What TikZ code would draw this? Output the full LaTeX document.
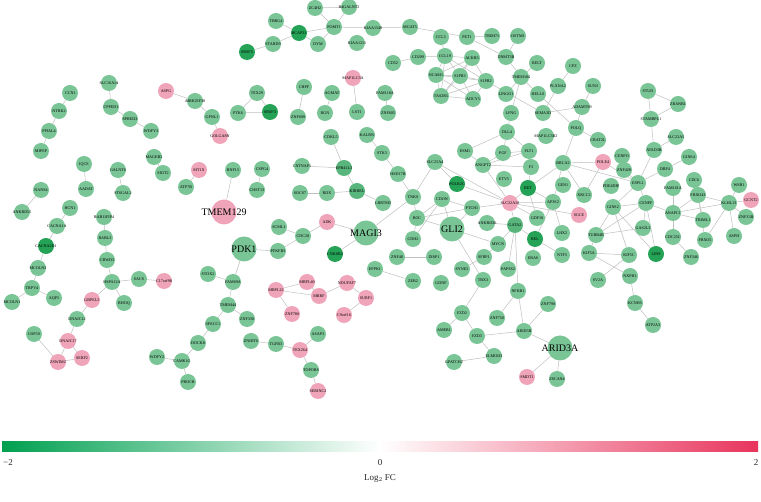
\documentclass[tikz,border=0pt]{standalone}
\usepackage{fontspec}
\setmainfont{Liberation Serif}
\usetikzlibrary{shapes.geometric}
\definecolor{lgc}{RGB}{122,197,150}
\definecolor{mgc}{RGB}{88,182,124}
\definecolor{dgc}{RGB}{36,162,86}
\definecolor{pkc}{RGB}{240,164,186}
\definecolor{edgc}{RGB}{192,192,192}
\definecolor{cbg}{RGB}{0,160,80}
\definecolor{cbr}{RGB}{232,52,92}
\pgfdeclarelayer{edges}
\pgfsetlayers{edges,main}
\newcommand{\nd}[4]{\node[#1] (#2) at (#3) {\makebox[0pt]{#4}};}
\tikzset{
  base/.style={circle,inner sep=0pt,minimum size=16pt,font=\fontsize{4.1}{4.5}\selectfont,text=black},
  lg/.style={base,fill=lgc},
  mg/.style={base,fill=mgc},
  dg/.style={base,fill=dgc},
  pk/.style={base,fill=pkc},
  bigg/.style={base,fill=lgc,minimum size=25pt,font=\fontsize{10}{11}\selectfont},
  bigp/.style={base,fill=pkc,minimum size=25pt,font=\fontsize{10}{11}\selectfont},
  edge/.style={draw=edgc,line width=0.5pt},
  cblab/.style={font=\fontsize{9}{10}\selectfont,text=black!85}
}
\begin{document}
\begin{tikzpicture}[x=1pt,y=-1pt]
\useasboundingbox (0,0) rectangle (761,502);
% ---- top cluster
\nd{lg}{zc4h2}{315,8}{ZC4H2}
\nd{lg}{b4galnt2}{349,7}{B4GALNT2}
\nd{lg}{tbrg4}{276,21}{TBRG4}
\nd{dg}{bcap}{299,33}{BCAP31}
\nd{lg}{pomt1}{334,27}{POMT1}
\nd{lg}{kiaa1549}{373,28}{KIAA1549}
\nd{lg}{kiaa1211}{357,43}{KIAA1211}
\nd{lg}{dym}{318,44}{DYM}
\nd{lg}{stard9}{273,44}{STARD9}
\nd{dg}{srsf5}{247,52}{SRSF5}
\nd{lg}{mgat5}{410,27}{MGAT5}
\nd{lg}{ccl5}{441,37}{CCL5}
\nd{lg}{pet1}{467,37}{PET1}
\nd{lg}{trim71}{492,36}{TRIM71}
\nd{lg}{ostm1}{518,36}{OSTM1}
\nd{lg}{dnmt3b}{506,57}{DNMT3B}
\nd{lg}{cd209}{418,57}{CD209}
\nd{lg}{cd52}{393,63}{CD52}
\nd{lg}{ccl19}{445,56}{CCL19}
\nd{lg}{ackr3}{472,58}{ACKR3}
\nd{lg}{ncam1}{436,75}{NCAM1}
\nd{lg}{s1pr3}{460,76}{S1PR3}
\nd{lg}{s1pr2}{486,81}{S1PR2}
\nd{lg}{tas2r5}{441,96}{TAS2R5}
\nd{lg}{adcy5}{473,99}{ADCY5}
\nd{lg}{tmem104}{521,77}{TMEM104}
\nd{lg}{relt}{537,63}{RELT}
\nd{lg}{lingo1}{506,94}{LINGO1}
\nd{lg}{hells}{538,94}{HELLS}
\nd{lg}{plxna2}{558,86}{PLXNA2}
\nd{lg}{sema3d}{543,113}{SEMA3D}
\nd{lg}{lfng}{511,113}{LFNG}
\nd{lg}{dll4}{507,132}{DLL4}
\nd{lg}{map1lc3b2}{546,136}{MAP1LC3B2}
\nd{lg}{cpz}{573,66}{CPZ}
\nd{lg}{sun3}{593,86}{SUN3}
\nd{lg}{adamts9}{582,107}{ADAMTS9}
\nd{lg}{polq}{576,128}{POLQ}
\nd{lg}{crat2}{598,140}{CRAT2L}
\nd{lg}{gtud}{648,91}{STUD}
\nd{lg}{zranb1}{678,104}{ZRANB1}
\nd{lg}{stambpl1}{651,119}{STAMBPL1}
\nd{lg}{slc22a5}{676,137}{SLC22A5}
% ---- right cluster
\nd{lg}{atad3b}{654,150}{ATAD3B}
\nd{lg}{cenpo}{622,156}{CENPO}
\nd{lg}{znf428}{624,170}{ZNF428}
\nd{pk}{pole4}{603,162}{POLE4}
\nd{lg}{gins4}{689,157}{GINS4}
\nd{lg}{dbf4}{665,169}{DBF4}
\nd{lg}{espl1}{638,183}{ESPL1}
\nd{lg}{pde4dip}{611,186}{PDE4DIP}
\nd{lg}{xrcc2}{584,195}{XRCC2}
\nd{lg}{fam161a}{673,188}{FAM161A}
\nd{lg}{cdc6}{694,180}{CDC6}
\nd{lg}{fbxo43}{698,195}{FBXO43}
\nd{lg}{cenpf}{646,203}{CENPF}
\nd{lg}{gins2}{613,207}{GINS2}
\nd{lg}{anapc1}{673,213}{ANAPC1}
\nd{lg}{triml1}{703,220}{TRIML1}
\nd{lg}{klhl13}{729,203}{KLHL13}
\nd{pk}{gcnt2}{751,200}{GCNT2}
\nd{lg}{wsb1}{739,185}{WSB1}
\nd{lg}{znf33}{746,217}{ZNF33B}
\nd{lg}{tubb4b}{596,235}{TUBB4B}
\nd{lg}{gas2l3}{643,228}{GAS2L3}
\nd{lg}{cdc25c}{673,237}{CDC25C}
\nd{lg}{fbxo5}{705,240}{FBXO5}
\nd{lg}{asph}{734,236}{ASPH}
\nd{dg}{lin9}{656,254}{LIN9}
\nd{lg}{kif5a}{589,253}{KIF5A}
\nd{lg}{kif5c}{629,255}{KIF5C}
\nd{lg}{znf346}{691,257}{ZNF346}
\nd{lg}{nxph1}{630,276}{NXPH1}
\nd{lg}{sv2a}{598,280}{SV2A}
\nd{lg}{kcnh5}{635,303}{KCNH5}
\nd{lg}{atp2a3}{653,325}{ATP2A3}
\nd{pk}{sgce}{579,215}{SGCE}
% ---- middle cluster
\nd{lg}{esm1}{465,151}{ESM1}
\nd{lg}{pgf}{503,153}{PGF}
\nd{lg}{flt1}{529,151}{FLT1}
\nd{lg}{angpt2}{483,165}{ANGPT2}
\nd{lg}{f3}{531,167}{F3}
\nd{lg}{etv5}{504,179}{ETV5}
\nd{dg}{ret}{528,188}{RET}
\nd{lg}{brca2}{563,163}{BRCA2}
\nd{lg}{gen1}{563,185}{GEN1}
\nd{lg}{slc25a4}{435,162}{SLC25A4}
\nd{lg}{hhd2d}{398,174}{HSD17B}
\nd{lg}{stk3}{382,153}{STK3}
\nd{dg}{polr2c}{457,184}{POLR2C}
\nd{lg}{tnks}{413,197}{TNKS}
\nd{lg}{lrrtm3}{383,203}{LRRTM3}
\nd{lg}{cdon}{442,199}{CDON}
\nd{lg}{ptch1}{472,208}{PTCH1}
\nd{pk}{slc22a18}{510,203}{SLC22A18}
\nd{lg}{ap3s2}{553,202}{AP3S2}
\nd{lg}{gdf10}{537,218}{GDF10}
\nd{lg}{boc}{417,218}{BOC}
\nd{bigg}{gli2}{452,229}{GLI2}
\nd{lg}{ankrd36}{487,223}{ANKRD36}
\nd{mg}{gata2}{515,225}{GATA2}
\nd{lg}{lhx2}{562,233}{LHX2}
\nd{dg}{rel}{535,239}{REL}
\nd{lg}{mycn}{498,244}{MYCN}
\nd{lg}{cdh2}{413,239}{CDH2}
\nd{lg}{znf48}{397,257}{ZNF48}
\nd{lg}{disp1}{434,257}{DISP1}
\nd{lg}{sfrp1}{484,257}{SFRP1}
\nd{lg}{eras}{533,258}{ERAS}
\nd{lg}{ntf3}{562,255}{NTF3}
\nd{lg}{syne2}{462,269}{SYNE2}
\nd{lg}{papss2}{508,269}{PAPSS2}
\nd{lg}{zeb2}{413,281}{ZEB2}
\nd{lg}{gdnf}{441,283}{GDNF}
\nd{lg}{tbx3}{483,280}{TBX3}
\nd{lg}{nfkb1}{518,291}{NFKB1}
\nd{lg}{fzd2}{462,313}{FZD2}
\nd{lg}{znf750}{497,318}{ZNF750}
\nd{lg}{znf790}{548,304}{ZNF790}
\nd{lg}{amer1}{444,330}{AMER1}
\nd{lg}{fzd3}{477,336}{FZD3}
\nd{lg}{arid5b}{524,331}{ARID5B}
\nd{bigg}{arid3a}{560,348}{ARID3A}
\nd{lg}{elmod3}{494,356}{ELMOD3}
\nd{lg}{gpatch2}{454,362}{GPATCH2}
\nd{pk}{smdt1}{527,377}{SMDT1}
\nd{lg}{zscan4}{557,379}{ZSCAN4}
% ---- left-middle
\nd{lg}{cdkl5}{331,137}{CDKL5}
\nd{lg}{kalrn}{367,135}{KALRN}
\nd{lg}{cntnap1}{302,166}{CNTNAP1}
\nd{mg}{epb41l3}{344,168}{EPB41L3}
\nd{lg}{socs7}{300,193}{SOCS7}
\nd{lg}{rdx}{327,193}{RDX}
\nd{mg}{krrn}{357,191}{KIRREL}
\nd{pk}{mt1x}{199,170}{MT1X}
\nd{lg}{atp7b}{186,187}{ATP7B}
\nd{lg}{rnf13}{233,170}{RNF13}
\nd{bigp}{tmem129}{224,212}{TMEM129}
\nd{lg}{cspg4}{262,169}{CSPG4}
\nd{lg}{chst13}{257,190}{CHST13}
\nd{lg}{scml1}{279,227}{SCML1}
\nd{lg}{cdc20}{303,236}{CDC20}
\nd{pk}{adk}{327,222}{ADK}
\nd{bigg}{magi3}{366,233}{MAGI3}
\nd{bigg}{pdk1}{244,249}{PDK1}
\nd{lg}{pfkfb3}{278,251}{PFKFB3}
\nd{dg}{cnksr2}{335,254}{CNKSR2}
\nd{lg}{eppk1}{375,269}{EPPK1}
\nd{lg}{stox2}{208,274}{STOX2}
\nd{lg}{fam69a}{233,282}{FAM69A}
\nd{lg}{tmem44}{228,305}{TMEM44}
\nd{lg}{znf330}{247,319}{ZNF330}
\nd{lg}{specc1}{213,324}{SPECC1}
\nd{lg}{dock8}{198,343}{DOCK8}
\nd{pk}{mrpl22}{276,290}{MRPL22}
\nd{pk}{mrpl40}{307,282}{MRPL40}
\nd{pk}{mrrf}{319,296}{MRRF}
\nd{pk}{znf780}{292,314}{ZNF780}
\nd{pk}{ndufaf7}{347,283}{NDUFAF7}
\nd{pk}{surf1}{366,298}{SURF1}
\nd{pk}{c9orf16}{344,315}{C9orf16}
\nd{lg}{znhit6}{251,341}{ZNHIT6}
\nd{lg}{tgfb3}{276,344}{TGFB3}
\nd{pk}{tex264}{300,350}{TEX264}
\nd{lg}{asap3}{318,334}{ASAP3}
\nd{lg}{topors}{311,370}{TOPORS}
\nd{pk}{serinc2}{318,391}{SERINC2}
% ---- top-left
\nd{pk}{aspg}{166,91}{ASPG}
\nd{lg}{arhgef38}{195,101}{ARHGEF38}
\nd{lg}{gpnl1}{212,117}{GPNL1}
\nd{pk}{golga8}{220,136}{GOLGA8N}
\nd{lg}{tex29}{257,93}{TEX29}
\nd{lg}{ptk6}{238,113}{PTK6}
\nd{dg}{srsf3}{270,112}{SRSF3}
\nd{lg}{chpf}{304,87}{CHPF}
\nd{lg}{znf609}{298,117}{ZNF609}
\nd{lg}{agmat}{332,93}{AGMAT}
\nd{lg}{rgn}{325,113}{RGN}
\nd{pk}{map1lc3a}{353,78}{MAP1LC3A}
\nd{lg}{lst1}{357,112}{LST1}
\nd{lg}{fam118a}{385,93}{FAM118A}
\nd{lg}{znf60}{388,113}{ZNF605}
% ---- left
\nd{lg}{ccni}{70,93}{CCNI}
\nd{lg}{ntrk2}{59,111}{NTRK2}
\nd{lg}{ppial4}{49,131}{PPIAL4}
\nd{lg}{mipep}{41,151}{MIPEP}
\nd{lg}{slc16a14}{109,83}{SLC16A14}
\nd{lg}{cpped1}{111,107}{CPPED1}
\nd{lg}{spred3}{130,119}{SPRED3}
\nd{lg}{wdfy3}{151,131}{WDFY3}
\nd{lg}{iqce}{84,164}{IQCE}
\nd{lg}{aadat}{86,189}{AADAT}
\nd{lg}{galnt6}{118,170}{GALNT6}
\nd{lg}{st6gal2}{123,193}{ST6GAL2}
\nd{lg}{mageb2}{154,157}{MAGEB2}
\nd{lg}{sidt2}{163,173}{SIDT2}
\nd{lg}{nans4}{41,190}{NANS4}
\nd{lg}{ankrd55}{22,212}{ANKRD55}
\nd{lg}{hcn1}{70,208}{HCN1}
\nd{lg}{cacna1a}{57,226}{CACNA1A}
\nd{dg}{cacna2d1}{46,246}{CACNA2D1}
\nd{lg}{mcoln3}{38,268}{MCOLN3}
\nd{lg}{trpv4}{32,288}{TRPV4}
\nd{lg}{mcoln1}{12,302}{MCOLN1}
\nd{lg}{aqp5}{54,298}{AQP5}
\nd{lg}{rab11fip4}{104,217}{RAB11FIP4}
\nd{lg}{rabl3}{105,238}{RABL3}
\nd{lg}{cbwd3}{107,260}{CBWD3}
\nd{lg}{hspa12a}{112,282}{HSPA12A}
\nd{lg}{sacs}{139,279}{SACS}
\nd{pk}{c17orf98}{164,281}{C17orf98}
\nd{pk}{grpel2}{92,300}{GRPEL2}
\nd{lg}{rhoq}{124,303}{RHOQ}
\nd{lg}{dnajc12}{77,319}{DNAJC12}
\nd{pk}{dnajc17}{68,341}{DNAJC17}
\nd{pk}{zswim2}{58,362}{ZSWIM2}
\nd{pk}{serp2}{82,358}{SERP2}
\nd{lg}{usp50}{34,334}{USP50}
\nd{lg}{wdfy2}{157,357}{WDFY2}
\nd{lg}{camk1g}{182,361}{CAMK1G}
\nd{lg}{procr}{188,382}{PROCR}
% ---- edges
\begin{pgfonlayer}{edges}
\fill[white] (0,0) rectangle (761,502);
\foreach \a/\b in {zc4h2/b4galnt2,zc4h2/pomt1,b4galnt2/pomt1,tbrg4/bcap,bcap/pomt1,bcap/dym,pomt1/dym,bcap/stard9,stard9/srsf5,pomt1/kiaa1549,kiaa1549/mgat5,mgat5/pet1,ccl5/ccl19,pet1/trim71,pet1/dnmt3b,ostm1/dnmt3b,cd52/cd209,cd209/ccl19,ccl19/ackr3,ccl19/ncam1,ccl19/s1pr3,ccl19/tas2r5,ccl19/s1pr2,ackr3/s1pr3,ackr3/s1pr2,ackr3/ncam1,ncam1/s1pr3,ncam1/s1pr2,ncam1/tas2r5,ncam1/adcy5,s1pr3/s1pr2,s1pr3/tas2r5,s1pr3/adcy5,s1pr2/tas2r5,s1pr2/adcy5,tas2r5/adcy5,ackr3/tas2r5,s1pr2/sema3d,dnmt3b/tmem104,tmem104/relt,tmem104/lingo1,tmem104/hells,tmem104/lfng,lfng/dll4,plxna2/sema3d,cpz/plxna2,sema3d/adamts9,sun3/adamts9,adamts9/polq,hells/polq,polq/crat2,polq/brca2,dll4/esm1,dll4/pgf,dll4/flt1,esm1/angpt2,pgf/angpt2,pgf/flt1,flt1/angpt2,flt1/f3,angpt2/f3,angpt2/slc22a18,f3/ret,ret/slc22a18,ret/ap3s2,ret/brca2,ret/gdf10,slc22a18/gata2,slc22a18/gdf10,slc22a18/sgce,slc22a18/ap3s2,slc22a18/slc25a4,slc22a18/polr2c,slc22a18/ptch1,slc25a4/tnks,slc25a4/polr2c,hhd2d/tnks,kalrn/stk3,stk3/hhd2d,tnks/boc,magi3/tnks,krrn/lrrtm3,cdon/boc,cdon/gli2,cdon/ptch1,cdon/cdh2,ptch1/gli2,ptch1/boc,boc/gli2,boc/cdh2,gli2/mycn,gli2/tbx3,gata2/mycn,gata2/rel,gata2/papss2,gata2/ankrd36,gata2/nfkb1,rel/ntf3,rel/eras,rel/ap3s2,ap3s2/lhx2,ap3s2/brca2,mycn/sfrp1,sfrp1/syne2,znf48/disp1,eppk1/zeb2,brca2/pole4,brca2/espl1,brca2/xrcc2,pole4/xrcc2,pole4/espl1,cenpo/znf428,znf428/espl1,atad3b/espl1,stambpl1/atad3b,slc22a5/atad3b,gtud/zranb1,gtud/stambpl1,zranb1/stambpl1,gins4/dbf4,dbf4/espl1,espl1/cenpf,espl1/gins2,cenpf/gins2,cenpf/anapc1,cenpf/gas2l3,cenpf/lin9,cenpf/tubb4b,gins2/tubb4b,gins2/kif5c,gins2/lin9,fam161a/anapc1,anapc1/fbxo43,anapc1/klhl13,anapc1/triml1,anapc1/cdc25c,fbxo43/klhl13,fbxo43/fbxo5,fbxo43/triml1,klhl13/wsb1,klhl13/gcnt2,klhl13/znf33,klhl13/asph,klhl13/fbxo5,cdc25c/znf346,tubb4b/kif5a,tubb4b/gas2l3,kif5a/kif5c,kif5a/nxph1,kif5c/sv2a,nxph1/kcnh5,kcnh5/atp2a3,tbx3/fzd2,fzd2/amer1,fzd2/fzd3,fzd3/arid5b,fzd3/elmod3,elmod3/gpatch2,nfkb1/znf750,nfkb1/arid5b,znf790/arid5b,arid5b/arid3a,arid3a/smdt1,arid3a/zscan4}
  \draw[edge] (\a) -- (\b);
\foreach \a/\b in {cdkl5/epb41l3,cntnap1/epb41l3,epb41l3/krrn,socs7/rdx,rdx/krrn,mt1x/atp7b,rnf13/tmem129,cspg4/chst13,scml1/cdc20,cdc20/adk,adk/magi3,pdk1/pfkfb3,pfkfb3/cdc20,magi3/cnksr2,pdk1/fam69a,stox2/fam69a,fam69a/tmem44,tmem44/znf330,tmem44/specc1,specc1/dock8,dock8/camk1g,wdfy2/camk1g,camk1g/procr,mrpl22/mrpl40,mrpl22/mrrf,mrpl40/mrrf,mrpl22/znf780,mrrf/ndufaf7,ndufaf7/surf1,surf1/c9orf16,znhit6/tgfb3,tgfb3/tex264,tex264/asap3,tex264/topors,topors/serinc2,aspg/arhgef38,arhgef38/gpnl1,gpnl1/golga8,tex29/ptk6,tex29/srsf3,ptk6/srsf3,chpf/znf609,agmat/rgn,map1lc3a/lst1,fam118a/znf60,ccni/ntrk2,ntrk2/ppial4,ppial4/mipep,slc16a14/cpped1,cpped1/spred3,spred3/wdfy3,iqce/aadat,galnt6/st6gal2,mageb2/sidt2,nans4/ankrd55,hcn1/cacna1a,cacna1a/cacna2d1,cacna2d1/mcoln3,mcoln3/trpv4,trpv4/mcoln1,trpv4/aqp5,rab11fip4/rabl3,rabl3/cbwd3,cbwd3/hspa12a,hspa12a/sacs,sacs/c17orf98,hspa12a/grpel2,hspa12a/rhoq,grpel2/dnajc12,dnajc12/dnajc17,dnajc17/zswim2,dnajc17/serp2,zswim2/serp2,usp50/zswim2}
  \draw[edge] (\a) -- (\b);
\end{pgfonlayer}
% ---- colour bar
\shade[left color=cbg,right color=cbr,middle color=white] (2,442) rectangle (758,452);
\node[cblab] (lm2) at (8,463) {−2};
\node[cblab] (l0) at (380,463) {0};
\node[cblab] (l2) at (756,463) {2};
\node[cblab] (ltitle) at (380,478) {Log$_2$ FC};
\end{tikzpicture}
\end{document}
